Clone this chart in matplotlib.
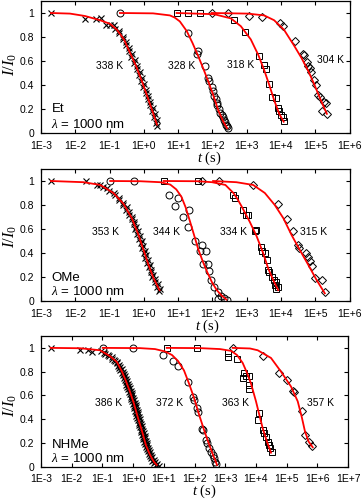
import numpy as np
import matplotlib
matplotlib.use('Agg')
import matplotlib.pyplot as plt

plt.rcParams['font.family'] = 'Liberation Sans'
plt.rcParams['mathtext.fontset'] = 'custom'
plt.rcParams['mathtext.it'] = 'Liberation Serif:italic'
plt.rcParams['mathtext.rm'] = 'Liberation Serif'

# all times are log10(t / s); I is I/I0

# ---------- panel 1 : Et ----------
et338_t = [-2.71, -1.71, -1.41, -1.26, -1.10, -0.99, -0.87,
           -0.845, -0.728, -0.727, -0.601, -0.60, -0.510, -0.520, -0.431, -0.441, -0.351,
           -0.361, -0.272, -0.282, -0.193, -0.210, -0.126, -0.142, -0.059, -0.075, 0.006,
           -0.012, 0.069, 0.050, 0.131, 0.112, 0.192, 0.173, 0.253, 0.233, 0.313, 0.292,
           0.371, 0.350, 0.375]
et338_i = [1.0, 0.95, 0.95, 0.96, 0.90, 0.90, 0.90,
           0.87, 0.85, 0.83, 0.80, 0.78, 0.755, 0.73, 0.705, 0.68, 0.655,
           0.63, 0.605, 0.58, 0.555, 0.53, 0.505, 0.48, 0.455, 0.43, 0.405,
           0.38, 0.355, 0.33, 0.305, 0.28, 0.255, 0.23, 0.205, 0.18, 0.155, 0.13,
           0.105, 0.08, 0.055]
et328_t = [-0.70, 1.30, 1.57, 1.55, 1.78, 1.88, 1.91, 1.98, 2.02, 2.05, 2.10, 2.12, 2.14,
           2.18, 2.22, 2.27, 2.31, 2.35, 2.38, 2.41, 2.43, 2.46]
et328_i = [1.0, 0.83, 0.68, 0.66, 0.56, 0.46, 0.43, 0.38, 0.35, 0.31, 0.28, 0.25, 0.23,
           0.20, 0.17, 0.15, 0.13, 0.11, 0.09, 0.07, 0.055, 0.04]
et318_t = [0.96, 1.29, 1.64, 2.64, 2.96, 3.35, 3.51, 3.56, 3.66, 3.75, 3.85, 3.90, 3.95,
           4.00, 4.05, 4.09]
et318_i = [1.0, 1.0, 1.0, 0.94, 0.845, 0.64, 0.57, 0.53, 0.41, 0.30, 0.29, 0.21, 0.18,
           0.15, 0.13, 0.10]
et304_t = [1.98, 2.47, 3.07, 3.46, 3.98, 4.05, 4.41, 4.63, 4.68, 4.76, 4.79, 4.85, 4.89,
           4.97, 5.02, 5.07, 5.14, 5.26, 5.31, 5.21, 5.34]
et304_i = [1.0, 1.0, 0.975, 0.965, 0.915, 0.89, 0.77, 0.66, 0.65, 0.59, 0.56, 0.54, 0.51,
           0.44, 0.40, 0.32, 0.30, 0.26, 0.25, 0.18, 0.16]

et338_fit_t = [-2.71, -2.155, -1.717, -1.28, -0.988, -0.784, -0.58, -0.405, -0.23, -0.055,
               0.12, 0.265, 0.382]
et338_fit_i = [1.0, 0.995, 0.975, 0.94, 0.91, 0.86, 0.78, 0.67, 0.56, 0.43, 0.29, 0.17, 0.07]
et328_fit_t = [-0.697, 0.27, 0.76, 0.9, 1.05, 1.25, 1.42, 1.58, 1.73, 1.88, 2.02, 2.17,
               2.32, 2.43]
et328_fit_i = [1.0, 0.997, 0.98, 0.962, 0.93, 0.85, 0.75, 0.645, 0.54, 0.43, 0.32, 0.19,
               0.094, 0.04]
et318_fit_t = [0.956, 2.05, 2.54, 2.83, 3.12, 3.34, 3.51, 3.66, 3.80, 3.95, 4.08]
et318_fit_i = [1.0, 0.99, 0.955, 0.89, 0.78, 0.65, 0.525, 0.40, 0.275, 0.16, 0.094]
et304_fit_t = [1.98, 3.03, 3.51, 3.80, 4.09, 4.38, 4.60, 4.80, 4.98, 5.16, 5.34]
et304_fit_i = [1.0, 0.995, 0.98, 0.94, 0.86, 0.73, 0.625, 0.515, 0.40, 0.275, 0.16]

# ---------- panel 2 : OMe ----------
ome353_t = [-2.71, -1.68, -1.37, -1.27, -1.18, -1.08,
            -1.02, -0.856, -0.841, -0.726, -0.711, -0.596, -0.594, -0.503, -0.512, -0.422,
            -0.431, -0.340, -0.356, -0.278, -0.300, -0.222, -0.245, -0.167, -0.189, -0.113,
            -0.140, -0.067, -0.093, -0.020, -0.047, 0.027, 0.000, 0.074, 0.047, 0.120,
            0.094, 0.167, 0.144, 0.220, 0.197, 0.274, 0.251, 0.332, 0.317, 0.401, 0.386,
            0.471, 0.456]
ome353_i = [1.0, 1.0, 0.967, 0.97, 0.95, 0.94,
            0.92, 0.90, 0.88, 0.86, 0.84, 0.82, 0.80, 0.78, 0.76, 0.74,
            0.72, 0.70, 0.68, 0.66, 0.64, 0.62, 0.60, 0.58, 0.56, 0.54,
            0.52, 0.50, 0.48, 0.46, 0.44, 0.42, 0.40, 0.38, 0.36, 0.34,
            0.32, 0.30, 0.28, 0.26, 0.24, 0.22, 0.20, 0.18, 0.16, 0.14, 0.12,
            0.10, 0.08]
ome344_t = [-0.98, -0.30, 0.72, 1.01, 0.92, 1.31, 1.15, 1.29, 1.48, 1.69, 1.63, 1.81,
            1.74, 1.86, 1.89, 1.95, 2.05, 2.15, 2.24, 2.34, 2.17, 2.42]
ome344_i = [1.0, 1.0, 0.88, 0.855, 0.79, 0.76, 0.70, 0.62, 0.50, 0.47, 0.42, 0.42,
            0.31, 0.305, 0.25, 0.175, 0.12, 0.078, 0.044, 0.022, 0.02, 0.01]
ome334_t = [0.576, 1.58, 2.60, 2.65, 2.90, 3.04, 2.99, 3.26, 3.24, 3.41, 3.46, 3.53, 3.58,
            3.61, 3.65, 3.73, 3.80, 3.87, 3.82, 3.90, 3.87]
ome334_i = [1.0, 1.0, 0.88, 0.86, 0.76, 0.72, 0.72, 0.59, 0.58, 0.45, 0.42, 0.40, 0.34,
            0.26, 0.24, 0.20, 0.175, 0.16, 0.13, 0.12, 0.10]
ome315_t = [1.70, 2.18, 3.19, 3.92, 4.19, 4.36, 4.49, 4.52, 4.72, 4.80, 4.85, 4.92, 4.99,
            5.19, 5.28]
ome315_i = [1.0, 1.0, 0.967, 0.81, 0.68, 0.58, 0.47, 0.44, 0.40, 0.37, 0.33, 0.29, 0.19,
            0.175, 0.072]

ome353_fit_t = [-2.71, -1.76, -1.27, -0.886, -0.594, -0.35, -0.155, -0.009, 0.137, 0.284,
                0.459]
ome353_fit_i = [1.0, 0.99, 0.967, 0.90, 0.81, 0.69, 0.55, 0.425, 0.30, 0.19, 0.09]
ome344_fit_t = [-0.982, -0.105, 0.48, 0.772, 0.947, 1.094, 1.22, 1.35, 1.47, 1.59, 1.72,
                1.85, 1.99, 2.13, 2.27, 2.41]
ome344_fit_i = [1.0, 0.998, 0.99, 0.97, 0.93, 0.87, 0.78, 0.66, 0.545, 0.43, 0.33, 0.24,
                0.155, 0.09, 0.045, 0.012]
ome334_fit_t = [0.576, 1.58, 1.99, 2.38, 2.614, 2.72, 2.85, 3.09, 3.29, 3.48, 3.63, 3.775,
                3.92]
ome334_fit_i = [1.0, 0.998, 0.99, 0.967, 0.90, 0.855, 0.79, 0.66, 0.54, 0.40, 0.27, 0.175,
                0.09]
ome315_fit_t = [2.02, 2.7, 3.19, 3.53, 3.82, 4.07, 4.31, 4.55, 4.80, 5.04, 5.28]
ome315_fit_i = [1.0, 0.99, 0.967, 0.90, 0.80, 0.69, 0.55, 0.425, 0.30, 0.175, 0.064]

# ---------- panel 3 : NHMe ----------
nh386_t = [-2.68, -1.73, -1.46, -1.35,
           -1.043, -0.912, -0.782, -0.691, -0.600, -0.534, -0.493, -0.453, -0.412, -0.376,
           -0.343, -0.310, -0.277, -0.247, -0.218, -0.189, -0.160, -0.131, -0.105, -0.079,
           -0.053, -0.027, -0.001, 0.021, 0.043, 0.065, 0.086, 0.108, 0.130, 0.154, 0.177,
           0.201, 0.225, 0.248, 0.271, 0.293, 0.316, 0.336, 0.358, 0.379, 0.406, 0.439,
           0.471, 0.504, 0.542, 0.585, 0.629, 0.697, 0.75,
           -0.963, -0.832, -0.702, -0.611, -0.520, -0.454, -0.413, -0.373, -0.332, -0.296,
           -0.263, -0.230, -0.197, -0.167, -0.138, -0.109, -0.080, -0.051, -0.025, 0.001,
           0.027, 0.053, 0.079, 0.101, 0.123, 0.145, 0.166, 0.188, 0.210, 0.234, 0.257,
           0.281, 0.305, 0.328, 0.351, 0.373, 0.396, 0.416, 0.438, 0.459, 0.486, 0.519,
           0.551, 0.584, 0.622, 0.665, 0.709, 0.777, 0.83]
nh386_i = [1.0, 0.986, 0.98, 0.963,
           0.97, 0.95, 0.93, 0.91, 0.89, 0.87, 0.85, 0.83, 0.81, 0.79,
           0.77, 0.75, 0.73, 0.71, 0.69, 0.67, 0.65, 0.63, 0.61, 0.59,
           0.57, 0.55, 0.53, 0.51, 0.49, 0.47, 0.45, 0.43, 0.41, 0.39, 0.37,
           0.35, 0.33, 0.31, 0.29, 0.27, 0.25, 0.23, 0.21, 0.19, 0.17, 0.15,
           0.13, 0.11, 0.09, 0.07, 0.05, 0.03, 0.015,
           0.96, 0.94, 0.92, 0.90, 0.88, 0.86, 0.84, 0.82, 0.80, 0.78,
           0.76, 0.74, 0.72, 0.70, 0.68, 0.66, 0.64, 0.62, 0.60, 0.58,
           0.56, 0.54, 0.52, 0.50, 0.48, 0.46, 0.44, 0.42, 0.40, 0.38, 0.36,
           0.34, 0.32, 0.30, 0.28, 0.26, 0.24, 0.22, 0.20, 0.18, 0.16, 0.14,
           0.12, 0.10, 0.08, 0.06, 0.04, 0.02, 0.008]
nh372_t = [-0.99, 0.007, 0.98, 1.31, 1.47, 1.80, 1.96, 1.98, 2.07, 2.10, 2.23, 2.29, 2.37,
           2.42, 2.48, 2.53, 2.59, 2.64, 2.67, 2.70]
nh372_i = [1.0, 1.0, 0.94, 0.887, 0.85, 0.71, 0.59, 0.56, 0.49, 0.46, 0.32, 0.31, 0.225,
           0.20, 0.155, 0.127, 0.099, 0.071, 0.042, 0.023]
nh363_t = [1.094, 2.09, 3.10, 3.10, 3.37, 3.60, 3.68, 3.57, 3.77, 3.79, 3.79, 4.11, 4.08,
           4.22, 4.27, 4.33, 4.38, 4.44, 4.47, 4.51]
nh363_i = [1.0, 1.0, 0.957, 0.92, 0.907, 0.79, 0.76, 0.75, 0.766, 0.69, 0.65, 0.45, 0.39,
           0.31, 0.28, 0.25, 0.21, 0.18, 0.155, 0.127]
nh357_t = [3.24, 4.22, 4.76, 5.01, 5.20, 5.25, 5.49, 5.60, 5.74, 5.82]
nh357_i = [1.0, 0.935, 0.79, 0.73, 0.64, 0.625, 0.465, 0.268, 0.21, 0.175]

nh386_fit_t = [-2.684, -1.73, -1.078, -0.752, -0.524, -0.362, -0.231, -0.101, 0.029, 0.160,
               0.290, 0.420, 0.55, 0.681, 0.77]
nh386_fit_i = [1.0, 0.997, 0.98, 0.93, 0.88, 0.80, 0.72, 0.63, 0.53, 0.41, 0.30, 0.18,
               0.10, 0.04, 0.015]
nh372_fit_t = [-0.99, 0.225, 0.713, 1.039, 1.267, 1.463, 1.658, 1.821, 1.984, 2.147, 2.31,
               2.472, 2.603, 2.733]
nh372_fit_i = [1.0, 0.998, 0.99, 0.97, 0.94, 0.89, 0.81, 0.70, 0.58, 0.44, 0.31, 0.19,
               0.10, 0.015]
nh363_fit_t = [1.094, 2.179, 2.831, 3.19, 3.384, 3.57, 3.71, 3.84, 4.003, 4.111, 4.221,
               4.362, 4.492]
nh363_fit_i = [1.0, 0.998, 0.99, 0.975, 0.94, 0.873, 0.79, 0.70, 0.55, 0.437, 0.324,
               0.21, 0.118]
nh357_fit_t = [3.244, 3.808, 4.059, 4.492, 4.818, 5.143, 5.362, 5.492, 5.599, 5.72, 5.85]
nh357_fit_i = [1.0, 0.995, 0.98, 0.915, 0.80, 0.675, 0.55, 0.42, 0.296, 0.21, 0.164]

# temperature labels: (log10 t, I, text)
et_labels = [(-0.99, 0.56, '338 K'), (1.10, 0.56, '328 K'), (2.83, 0.567, '318 K'),
             (5.45, 0.61, '304 K')]
ome_labels = [(-1.13, 0.578, '353 K'), (0.675, 0.578, '344 K'), (2.605, 0.578, '334 K'),
              (4.944, 0.578, '315 K')]
nh_labels = [(-0.81, 0.535, '386 K'), (1.20, 0.535, '372 K'), (3.35, 0.535, '363 K'),
             (6.12, 0.535, '357 K')]

marker_style = {
    'x': dict(marker='x', ms=4.2, mew=0.8),
    'o': dict(marker='o', ms=5, mew=0.7, mfc='none'),
    's': dict(marker='s', ms=5, mew=0.7, mfc='none'),
    'D': dict(marker='D', ms=3.8, mew=0.7, mfc='none'),
}

panels = [
    dict(rect=[41 / 362, 1 - 133 / 500, 308.5 / 362, 132 / 500], xmax=6,
         data=[(et338_t, et338_i, 'x'), (et328_t, et328_i, 'o'),
               (et318_t, et318_i, 's'), (et304_t, et304_i, 'D')],
         fits=[(et338_fit_t, et338_fit_i), (et328_fit_t, et328_fit_i),
               (et318_fit_t, et318_fit_i), (et304_fit_t, et304_fit_i)],
         labels=et_labels, name='Et', name_y=0.2, lam_y=0.075,
         xlab=(209, 158.5), ylab_y=64),
    dict(rect=[41 / 362, 1 - 301 / 500, 308.5 / 362, 132 / 500], xmax=6,
         data=[(ome353_t, ome353_i, 'x'), (ome344_t, ome344_i, 'o'),
               (ome334_t, ome334_i, 's'), (ome315_t, ome315_i, 'D')],
         fits=[(ome353_fit_t, ome353_fit_i), (ome344_fit_t, ome344_fit_i),
               (ome334_fit_t, ome334_fit_i), (ome315_fit_t, ome315_fit_i)],
         labels=ome_labels, name='OMe', name_y=0.194, lam_y=0.078,
         xlab=(207.7, 326.5), ylab_y=236),
    dict(rect=[41 / 362, 1 - 466.7 / 500, 307 / 362, 130.7 / 500], xmax=7,
         data=[(nh386_t, nh386_i, 'x'), (nh372_t, nh372_i, 'o'),
               (nh363_t, nh363_i, 's'), (nh357_t, nh357_i, 'D')],
         fits=[(nh386_fit_t, nh386_fit_i), (nh372_fit_t, nh372_fit_i),
               (nh363_fit_t, nh363_fit_i), (nh357_fit_t, nh357_fit_i)],
         labels=nh_labels, name='NHMe', name_y=0.183, lam_y=0.071,
         xlab=(204.3, 491.5), ylab_y=405),
]

fig = plt.figure(figsize=(3.62, 5.0), dpi=100)

for p in panels:
    ax = fig.add_axes(p['rect'])
    ax.set_xscale('log')
    for lt, yy, m in p['data']:
        ax.plot(10 ** np.array(lt), yy, ls='none', color='black', zorder=2,
                **marker_style[m])
    for lt, yy in p['fits']:
        ax.plot(10 ** np.array(lt), yy, color='red', lw=1.3, zorder=3)
    for lt, yy, txt in p['labels']:
        ax.text(10 ** lt, yy, txt, ha='center', va='center', fontsize=7.5)

    tr = ax.get_yaxis_transform()
    ax.text(0.034, p['name_y'], p['name'], transform=tr, ha='left', va='center',
            fontsize=9.5)
    ax.text(0.034, p['lam_y'], r'$\lambda$ = 1000 nm', transform=tr, ha='left',
            va='center', fontsize=9.5)

    ax.set_xlim(1e-3, 10 ** p['xmax'])
    ax.set_ylim(0, 1.1)
    exps = list(range(-3, p['xmax'] + 1))
    ax.set_xticks([10.0 ** k for k in exps])
    ax.set_xticklabels(['1E%+d' % k for k in exps])
    ax.xaxis.set_minor_locator(matplotlib.ticker.NullLocator())
    ax.set_yticks([0, 0.2, 0.4, 0.6, 0.8, 1.0])
    ax.set_yticklabels(['0', '0.2', '0.4', '0.6', '0.8', '1'])
    ax.tick_params(direction='in', length=3, width=0.8, top=True, right=True,
                   labelsize=7.5)
    ax.tick_params(axis='x', pad=5.5)
    ax.tick_params(axis='y', pad=5)
    for s in ax.spines.values():
        s.set_linewidth(0.9)

    fig.text(p['xlab'][0] / 362, 1 - p['xlab'][1] / 500, r'$t$ (s)',
             family='Liberation Serif', fontsize=10.5, ha='center', va='center')
    fig.text(10 / 362, 1 - p['ylab_y'] / 500, r'$I/I_0$', fontsize=12,
             rotation=90, ha='center', va='center')

fig.savefig('out.png', dpi=100)
